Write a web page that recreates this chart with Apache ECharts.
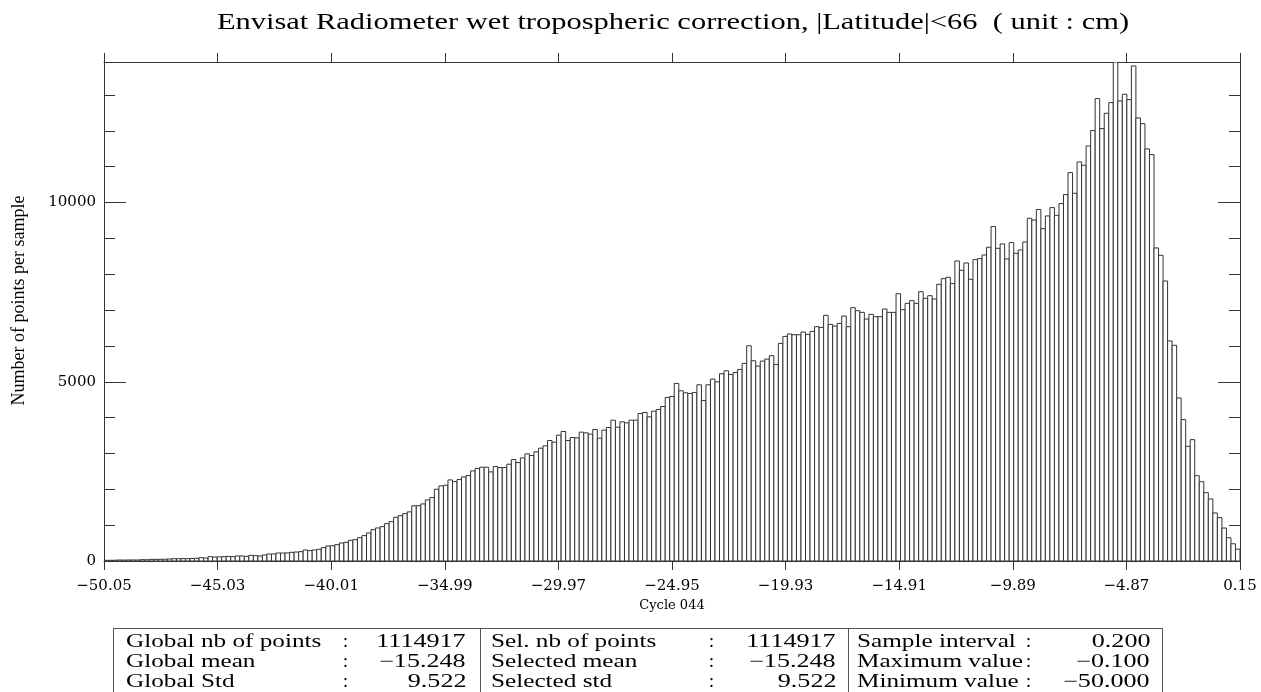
<!DOCTYPE html>
<html>
<head>
<meta charset="utf-8">
<title>Envisat Radiometer wet tropospheric correction</title>
<script src="https://cdn.jsdelivr.net/npm/echarts@6/dist/echarts.min.js"></script>
<style>
  html, body { margin: 0; padding: 0; background: #fff; }
  #page { position: relative; width: 1261px; height: 692px; overflow: hidden; }
  #main { position: absolute; left: 0; top: 0; width: 1261px; height: 692px; }
  /* stats table under the plot */
  .stats { position: absolute; left: 113px; top: 628px; width: 1048px; height: 80px;
    border: 1px solid #555; border-bottom: none; }
  .sep { position: absolute; top: 628px; width: 1px; height: 80px; background: #555; }
  .cell { position: absolute; font-family: 'Liberation Serif', serif; font-size: 18px;
    color: #000; white-space: pre; line-height: 20px; }
  .lab { transform-origin: left center; }
  .val { transform-origin: right center; text-align: right; }
</style>
</head>
<body>
<div id="page">
  <div id="main"></div>
  <div class="stats"></div>
  <div class="sep" style="left:480px"></div>
  <div class="sep" style="left:848px"></div>
</div>
<script>
  // histogram bins (cm)
  var binStart = -50.05;
  var binWidth = 0.2;
  var xMin = -50.05;
  var xMax = 0.15;
  var xStep = 5.02;
  var yMax = 13920;

  // number of points per 0.2 cm sample, from -50.05 to 0.15
  var counts = [
    19, 19, 22, 28, 26, 28, 30, 28, 37, 35,
    47, 45, 47, 50, 56, 65, 63, 67, 65, 70,
    75, 93, 84, 121, 112, 115, 121, 130, 121, 140,
    140, 130, 158, 149, 140, 168, 196, 196, 223, 223,
    225, 242, 251, 261, 307, 289, 307, 326, 372, 419,
    428, 456, 503, 521, 577, 596, 652, 708, 782, 875,
    922, 959, 1043, 1099, 1220, 1266, 1322, 1370, 1540, 1545,
    1592, 1704, 1769, 2002, 2095, 2113, 2262, 2216, 2272, 2346,
    2383, 2514, 2579, 2616, 2616, 2486, 2635, 2607, 2607, 2700,
    2830, 2746, 2877, 2989, 2942, 3044, 3147, 3212, 3361, 3314,
    3510, 3612, 3361, 3445, 3435, 3594, 3575, 3538, 3668, 3426,
    3650, 3724, 3929, 3733, 3882, 3854, 3929, 3929, 4115, 4143,
    4022, 4180, 4227, 4311, 4562, 4590, 4953, 4748, 4692, 4674,
    4702, 4916, 4478, 4916, 5074, 5000, 5223, 5307, 5204, 5260,
    5344, 5512, 6005, 5586, 5437, 5577, 5632, 5726, 5484, 6070,
    6266, 6331, 6312, 6312, 6387, 6321, 6405, 6536, 6517, 6852,
    6601, 6554, 6629, 6833, 6536, 7066, 6983, 6936, 6750, 6880,
    6815, 6815, 7029, 6936, 6936, 7457, 7010, 7187, 7262, 7187,
    7513, 7327, 7401, 7308, 7718, 7876, 7914, 7737, 8370, 8109,
    8314, 7858, 8407, 8435, 8537, 8751, 9329, 8723, 8845, 8426,
    8882, 8584, 8677, 8900, 9561, 9510, 9805, 9272, 9626, 9858,
    9644, 9970, 10221, 10835, 10258, 11132, 11039, 11578, 12006, 12899,
    12062, 12490, 12788, 13920, 12834, 13020, 12871, 13810, 12360, 12200,
    11495, 11337, 8733, 8528, 7812, 6138, 6017, 4548, 3943, 3200,
    3385, 2380, 2213, 1907, 1730, 1340, 1210, 920, 650, 480,
    330
  ];

  var titleText = 'Envisat Radiometer wet tropospheric correction, |Latitude|<66  ( unit : cm)';
  var xName = 'Cycle 044';
  var yName = 'Number of points per sample';

  // table under the chart: [label, value] per column
  var statRows = [
    [['Global nb of points', '1114917'], ['Sel. nb of points', '1114917'], ['Sample interval', '0.200']],
    [['Global mean', '\u221215.248'], ['Selected mean', '\u221215.248'], ['Maximum value', '\u22120.100']],
    [['Global Std', '9.522'], ['Selected std', '9.522'], ['Minimum value', '\u221250.000']]
  ];

  // x axis runs in hundredths of cm from xMin so the 5.02 step is a whole number
  function toAxis(x) { return Math.round((x - xMin) * 100); }
  function fmtX(v) { return (xMin + v / 100).toFixed(2).replace('-', '\u2212'); }

  var bins = counts.map(function (c, i) {
    var lo = binStart + i * binWidth;
    return [toAxis(lo), toAxis(lo + binWidth), c];
  });

  var axisColor = '#333';
  var tickFont = { fontFamily: 'DejaVu Serif', fontSize: 15, color: '#000' };

  function xAxisCfg(pos) {
    return {
      type: 'value', position: pos, min: 0, max: toAxis(xMax), interval: toAxis(xMin + xStep),
      axisLine: { show: true, onZero: false, lineStyle: { color: axisColor } },
      axisTick: { show: true, inside: false, length: 9, lineStyle: { color: axisColor } },
      axisLabel: pos === 'bottom'
        ? Object.assign({ formatter: fmtX, margin: 18 }, tickFont)
        : { show: false },
      splitLine: { show: false }
    };
  }

  function yAxisCfg(pos, step, len, withLine) {
    return {
      type: 'value', position: pos, min: 0, max: yMax, interval: step,
      axisLine: { show: withLine, lineStyle: { color: axisColor } },
      axisTick: { show: true, inside: true, length: len, lineStyle: { color: axisColor } },
      axisLabel: { show: false },
      splitLine: { show: false }
    };
  }

  var yLeft = yAxisCfg('left', 1000, 11, true);
  yLeft.axisLabel = Object.assign({
    show: true, margin: 8,
    formatter: function (v) { return v % 5000 === 0 ? String(v) : ''; }
  }, tickFont);
  yLeft.name = yName;
  yLeft.nameLocation = 'middle';
  yLeft.nameRotate = 90;
  yLeft.nameGap = 76;
  yLeft.nameTextStyle = { fontFamily: 'Liberation Serif', fontSize: 18, color: '#000', padding: [0, 0, 0, 22] };

  var xBottom = xAxisCfg('bottom');
  xBottom.name = xName;
  xBottom.nameLocation = 'middle';
  xBottom.nameGap = 32;
  xBottom.nameTextStyle = { fontFamily: 'DejaVu Serif', fontSize: 13, color: '#000' };

  var chart = echarts.init(document.getElementById('main'), null, { renderer: 'canvas' });
  chart.setOption({
    animation: false,
    backgroundColor: '#fff',
    grid: { left: 104, top: 62, width: 1136, height: 499, containLabel: false },
    graphic: [{
      type: 'text', x: 673, y: 23, scaleX: 1.27,
      style: {
        text: titleText, fontFamily: 'Liberation Serif', fontSize: 24, fill: '#000',
        align: 'center', verticalAlign: 'middle'
      }
    }],
    xAxis: [xBottom, xAxisCfg('top')],
    yAxis: [
      yLeft,
      yAxisCfg('left', 5000, 22, false),
      yAxisCfg('right', 1000, 11, true),
      yAxisCfg('right', 5000, 22, false)
    ],
    series: [{
      type: 'custom',
      clip: true,
      encode: { x: [0, 1], y: 2 },
      data: bins,
      renderItem: function (params, api) {
        var p0 = api.coord([api.value(0), 0]);
        var p1 = api.coord([api.value(1), api.value(2)]);
        return {
          type: 'rect',
          shape: { x: p0[0], y: p1[1], width: p1[0] - p0[0], height: p0[1] - p1[1] },
          style: { fill: '#fff', stroke: '#333', lineWidth: 1 }
        };
      }
    }]
  });

  // stats table
  var cols = [
    { label: 126, colon: 345, right: 466 },
    { label: 491, colon: 711, right: 836 },
    { label: 857, colon: 1028, right: 1150 }
  ];
  var rowY = [631, 651, 671];
  var page = document.getElementById('page');
  statRows.forEach(function (row, r) {
    row.forEach(function (cell, c) {
      var lab = document.createElement('div');
      lab.className = 'cell lab';
      lab.style.left = cols[c].label + 'px';
      lab.style.top = rowY[r] + 'px';
      lab.style.transform = 'scaleX(1.4)';
      lab.textContent = cell[0];
      page.appendChild(lab);

      var colon = document.createElement('div');
      colon.className = 'cell';
      colon.style.left = (cols[c].colon - 2) + 'px';
      colon.style.top = rowY[r] + 'px';
      colon.textContent = ':';
      page.appendChild(colon);

      var val = document.createElement('div');
      val.className = 'cell val';
      val.style.right = (1261 - cols[c].right) + 'px';
      val.style.top = rowY[r] + 'px';
      val.style.transform = 'scaleX(1.45)';
      val.textContent = cell[1];
      page.appendChild(val);
    });
  });
</script>
</body>
</html>
